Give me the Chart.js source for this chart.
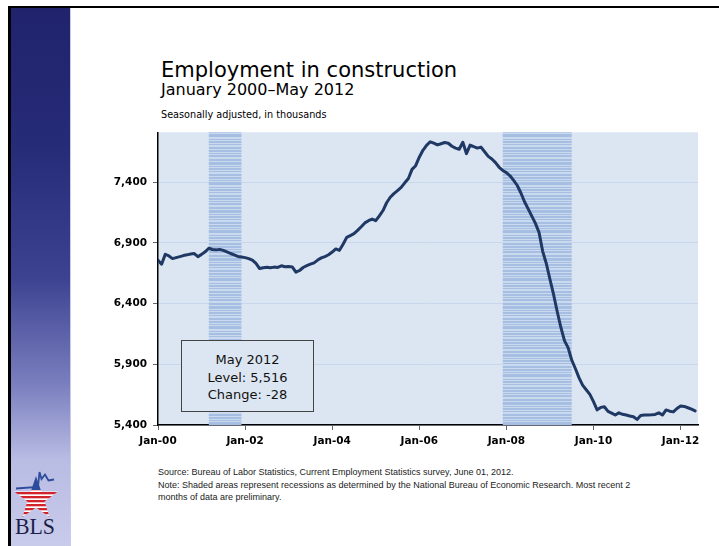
<!DOCTYPE html>
<html>
<head>
<meta charset="utf-8">
<script src="https://cdn.jsdelivr.net/npm/chart.js@4.4.1/dist/chart.umd.min.js"></script>
<style>
  html, body { margin: 0; padding: 0; background: #fff; }
  body { width: 719px; height: 546px; position: relative; overflow: hidden; font-family: 'DejaVu Sans', sans-serif; }
  .frameTop { position: absolute; left: 8px; top: 6px; width: 711px; height: 2px; background: #000; }
  .frameLeft { position: absolute; left: 8px; top: 6px; width: 3px; height: 540px; background: #000; }
  .sidebar { position: absolute; left: 11px; top: 8px; width: 59px; height: 538px;
    background: linear-gradient(to bottom, #20236c 0%, #262b78 25%, #3c4290 50%, #7a7fbf 70%, #b9bce3 84%, #c8cbea 100%);
    border-right: 1px solid #c9cce9; }
  .t1 { position: absolute; left: 161px; top: 60px; font-size: 21px; line-height: 21px; color: #000; white-space: nowrap; }
  .t2 { position: absolute; left: 161px; top: 81px; font-size: 16px; line-height: 17px; color: #000; white-space: nowrap; }
  .t3 { position: absolute; left: 161px; top: 110px; font-size: 9.7px; line-height: 10px; color: #000; white-space: nowrap; }
  .src { position: absolute; left: 158px; top: 466px; font-family: 'Liberation Sans', sans-serif; font-size: 9px; line-height: 12.5px; color: #222; white-space: nowrap; }
  .note { position: absolute; left: 181px; top: 340px; width: 131px; height: 70px; border: 1px solid #444; background: #dce6f2; }
  .noteText { position: absolute; left: 181px; top: 351px; width: 133px; text-align: center; font-size: 13px; line-height: 17.5px; color: #111; }
  #logo { position: absolute; left: 11px; top: 460px; }
</style>
</head>
<body>
<div class="frameTop"></div>
<div class="sidebar"></div>
<div class="frameLeft"></div>
<svg id="logo" width="59" height="86" viewBox="0 0 59 86">
  <defs>
    <pattern id="redStripes" width="4" height="4" patternUnits="userSpaceOnUse">
      <rect width="4" height="4" fill="#ffffff"/>
      <rect width="4" height="2.3" fill="#d2232a"/>
    </pattern>
    <clipPath id="lowerStar"><rect x="0" y="30" width="59" height="40"/></clipPath>
    <clipPath id="upperStar"><rect x="0" y="0" width="59" height="30"/></clipPath>
  </defs>
  <polygon points="25,16 30.3,31.6 46.8,31.6 33.6,41.5 38.5,57 25,47.5 11.5,57 16.4,41.5 3.2,31.6 19.7,31.6"
           fill="url(#redStripes)" clip-path="url(#lowerStar)"/>
  <polygon points="25,16 30.3,31.6 46.8,31.6 33.6,41.5 38.5,57 25,47.5 11.5,57 16.4,41.5 3.2,31.6 19.7,31.6"
           fill="#2d4c9c" clip-path="url(#upperStar)"/>
  <polyline points="5,28.5 27,27 28.5,12 30.5,19 34,14.5 37.5,20.5 43,19.5" fill="none" stroke="#2d4c9c" stroke-width="1.8"/>
  <text x="4" y="74" font-family="'Liberation Serif', serif" font-size="24" fill="#1c1f4a" textLength="40" lengthAdjust="spacingAndGlyphs">BLS</text>
</svg>

<div class="t1">Employment in construction</div>
<div class="t2">January 2000–May 2012</div>
<div class="t3">Seasonally adjusted, in thousands</div>

<canvas id="constructionChart" width="630" height="340" style="position:absolute;left:80px;top:120px;"></canvas>

<div class="note"></div>
<div class="noteText">May 2012<br>Level: 5,516<br>Change: -28</div>

<div class="src">Source: Bureau of Labor Statistics, Current Employment Statistics survey, June 01, 2012.<br>Note: Shaded areas represent recessions as determined by the National Bureau of Economic Research. Most recent 2<br>months of data are preliminary.</div>

<script>
// EMPLOYMENT IN CONSTRUCTION, monthly, Jan 2000 (index 0) - May 2012 (index 148)
const employment = [
    6757, 6724, 6806, 6792, 6770, 6778, 6786, 6795, 6801, 6808, 6812, 6786,
    6805, 6826, 6855, 6845, 6842, 6846, 6838, 6826, 6812, 6800, 6788, 6783,
    6778, 6770, 6757, 6730, 6688, 6694, 6698, 6694, 6700, 6697, 6711, 6703,
    6705, 6702, 6658, 6672, 6697, 6712, 6724, 6735, 6758, 6776, 6787, 6802,
    6824, 6850, 6838, 6888, 6945, 6960, 6975, 7002, 7032, 7064, 7082, 7096,
    7082, 7122, 7166, 7230, 7275, 7305, 7330, 7356, 7394, 7430, 7505, 7535,
    7605, 7662, 7702, 7732, 7720, 7706, 7716, 7726, 7720, 7695, 7680, 7670,
    7728, 7634, 7705, 7692, 7680, 7688, 7650, 7612, 7590, 7560, 7522, 7496,
    7478, 7452, 7414, 7372, 7310, 7238, 7180, 7120, 7060, 6985, 6830, 6730,
    6600, 6475, 6335, 6205, 6095, 6037, 5935, 5865, 5790, 5728, 5690, 5652,
    5592, 5525, 5545, 5550, 5512, 5498, 5482, 5500, 5488, 5482, 5474, 5468,
    5446, 5478, 5482, 5482, 5484, 5487, 5500, 5482, 5524, 5514, 5508, 5536,
    5556, 5553, 5542, 5530, 5516
];

// x ticks (month index from Jan 2000) and their labels
const xTickMonths = [0, 24, 48, 72, 96, 120, 144];
const xTickLabels = ['Jan-00', 'Jan-02', 'Jan-04', 'Jan-06', 'Jan-08', 'Jan-10', 'Jan-12'];
const yTickValues = [5400, 5900, 6400, 6900, 7400];

// NBER recessions, first and last month index
const recessionStarts = [14, 95];
const recessionEnds = [22, 113];

// stripe rows for the recession shading (1 = darker line)
const stripeRows = [1,1,0,1,0,0,1,1,0,1,1,0,1,0,1,1,1,0,0,1,0,1,1,0,1,0,0,1,1,0,1,1,0,1,0,1,1,0,0,1,1,0,1,1,1,0,1,0];

const plotBg = '#dce6f2';

const backgroundPlugin = {
    id: 'plotBackground',
    beforeDraw(chart) {
        const a = chart.chartArea;
        const ctx = chart.ctx;
        ctx.save();
        ctx.fillStyle = plotBg;
        ctx.fillRect(a.left, a.top, a.right - a.left, a.bottom - a.top);
        ctx.restore();
    }
};

const recessionPlugin = {
    id: 'recessions',
    beforeDatasetsDraw(chart) {
        const a = chart.chartArea;
        const ctx = chart.ctx;
        const xs = chart.scales.x;
        const pc = document.createElement('canvas');
        pc.width = 4;
        pc.height = stripeRows.length;
        const g = pc.getContext('2d');
        stripeRows.forEach(function(r, i) {
            g.fillStyle = r ? '#a5bee2' : '#c9d9ee';
            g.fillRect(0, i, 4, 1);
        });
        const pattern = ctx.createPattern(pc, 'repeat');
        ctx.save();
        ctx.fillStyle = pattern;
        recessionStarts.forEach(function(s, i) {
            const x0 = xs.getPixelForValue(s);
            const x1 = xs.getPixelForValue(recessionEnds[i] + 1);
            ctx.fillRect(x0, a.top, x1 - x0, a.bottom - a.top);
        });
        ctx.restore();
    }
};

const chartData = {
    datasets: [{
        label: 'Employment in construction',
        data: employment.map(function(v, i) { return { x: i, y: v }; }),
        borderColor: '#1f3864',
        borderWidth: 3,
        pointRadius: 0,
        tension: 0,
        borderJoinStyle: 'round',
        borderCapStyle: 'round'
    }]
};

const chartOptions = {
    responsive: false,
    animation: false,
    devicePixelRatio: 1,
    layout: {
        padding: { top: 9, right: 12, left: 0, bottom: 0 }
    },
    scales: {
        x: {
            type: 'linear',
            min: 0,
            max: 148.8,
            afterBuildTicks: function(scale) {
                scale.ticks = xTickMonths.map(function(v) { return { value: v }; });
            },
            afterFit: function(scale) { scale.height = 35; },
            ticks: {
                autoSkip: false,
                maxRotation: 0,
                padding: 5,
                color: '#000',
                font: { size: 10.5, weight: 'bold' },
                callback: function(value) {
                    return xTickLabels[xTickMonths.indexOf(value)];
                }
            },
            grid: {
                drawOnChartArea: false,
                tickLength: 5,
                tickColor: '#666'
            },
            border: { color: '#000', width: 1.5 }
        },
        y: {
            min: 5400,
            max: 7810,
            afterBuildTicks: function(scale) {
                scale.ticks = yTickValues.map(function(v) { return { value: v }; });
            },
            afterFit: function(scale) { scale.width = 78; },
            ticks: {
                padding: 6,
                color: '#000',
                font: { size: 10.5, weight: 'bold' },
                callback: function(value) {
                    return value.toLocaleString('en-US');
                }
            },
            grid: {
                color: '#c8d7ec',
                lineWidth: 1,
                tickLength: 5,
                tickColor: '#666'
            },
            border: { color: '#000', width: 1.5 }
        }
    },
    plugins: {
        legend: { display: false },
        tooltip: { enabled: false }
    }
};

Chart.defaults.font.family = "'DejaVu Sans', sans-serif";

const ctxConstruction = document.getElementById('constructionChart').getContext('2d');
const constructionChart = new Chart(ctxConstruction, {
    type: 'line',
    data: chartData,
    options: chartOptions,
    plugins: [backgroundPlugin, recessionPlugin]
});
</script>
</body>
</html>
